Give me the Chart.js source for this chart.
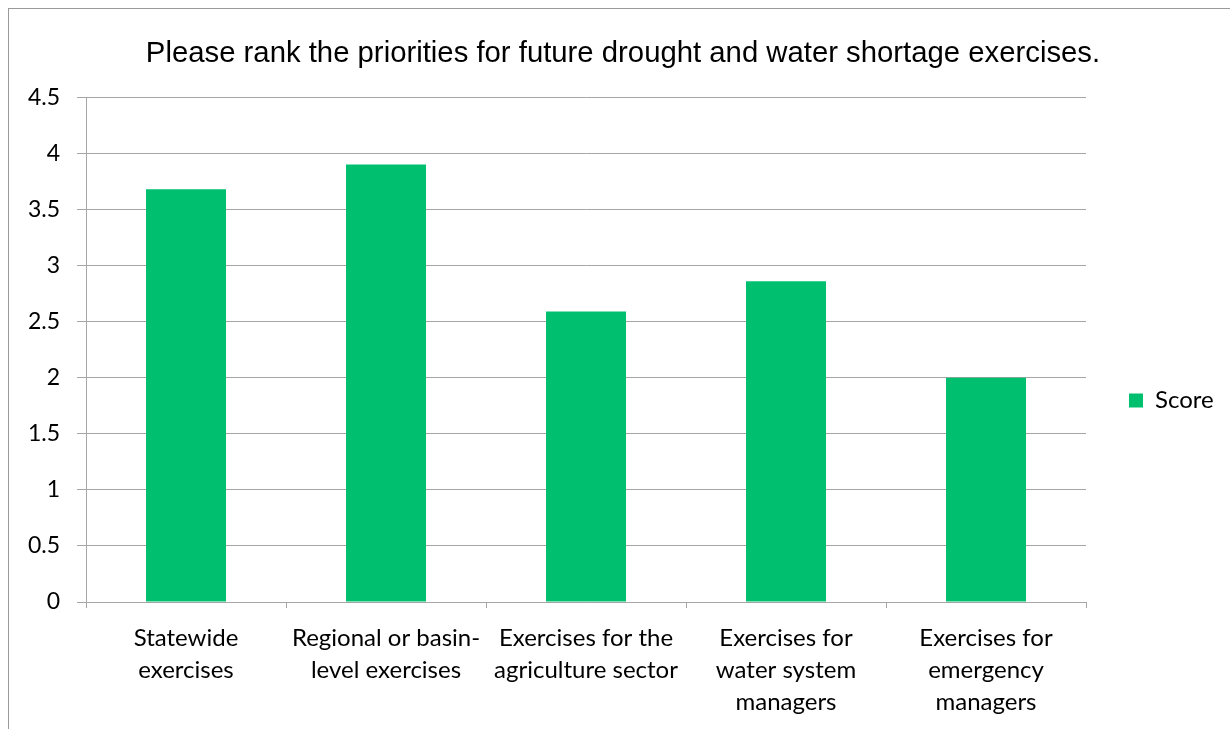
<!DOCTYPE html>
<html>
<head>
<meta charset="utf-8">
<script src="https://cdn.jsdelivr.net/npm/chart.js@4.4.1/dist/chart.umd.min.js"></script>
<style>
  html, body { margin: 0; padding: 0; background: #fff; overflow: hidden; }
  #wrap { position: relative; width: 1230px; height: 729px; }
  #frame { position: absolute; left: 8px; top: 8px; width: 1240px; height: 740px; border: 1px solid #9a9a9a; box-sizing: border-box; pointer-events: none; }
  canvas { position: absolute; left: 0; top: 0; }
</style>
</head>
<body>
<div id="wrap">
  <canvas id="c" width="1230" height="729"></canvas>
  <div id="frame"></div>
</div>
<script>
const titleText = "Please rank the priorities for future drought and water shortage exercises.";
const categories = [
  ["Statewide", "exercises"],
  ["Regional or basin-", "level exercises"],
  ["Exercises for the", "agriculture sector"],
  ["Exercises for", "water system", "managers"],
  ["Exercises for", "emergency", "managers"]
];
const seriesName = "Score";
const scores = [3.68, 3.90, 2.59, 2.86, 2.00];
const yMin = 0, yMax = 4.5, yStep = 0.5;

const labelFont = "Lato, 'Open Sans', sans-serif";
const gridColor = "#a6a6a6";

const layoutFix = {
  id: 'layoutFix',
  afterInit(chart) {
    const lg = chart.legend;
    const orig = lg.fit.bind(lg);
    lg.fit = function() { orig(); this.width = 144; };
  },
  afterLayout(chart) {
    const lg = chart.legend;
    lg.left += 33;
    lg.top += 36;
    lg.bottom += 36;
    const tb = chart.titleBlock;
    if (tb) { tb.left += 16; }
  }
};

new Chart(document.getElementById('c'), {
  type: 'bar',
  data: {
    labels: categories,
    datasets: [{
      label: seriesName,
      data: scores,
      backgroundColor: '#00BF6F',
      borderWidth: 0,
      barPercentage: 0.4,
      categoryPercentage: 1.0
    }]
  },
  options: {
    responsive: false,
    animation: false,
    devicePixelRatio: 1,
    layout: { padding: { left: 0, right: 0, top: 0, bottom: 0 } },
    plugins: {
      title: {
        display: true,
        text: titleText,
        color: '#000',
        font: { family: "'Liberation Sans', Arial, sans-serif", size: 29.3, weight: 'normal', lineHeight: 1.2 },
        padding: { top: 36, bottom: 26 }
      },
      legend: {
        position: 'right',
        labels: {
          boxWidth: 14,
          boxHeight: 14,
          padding: 10,
          color: '#000',
          font: { family: labelFont, size: 24 }
        }
      },
      tooltip: { enabled: false }
    },
    scales: {
      x: {
        grid: { display: true, drawOnChartArea: false, drawTicks: true, tickLength: 6, color: gridColor, offset: true },
        border: { display: true, color: gridColor },
        ticks: {
          color: '#000',
          font: { family: labelFont, size: 24, lineHeight: 1.33 },
          padding: 14,
          maxRotation: 0,
          autoSkip: false
        },
        afterFit(s) { s.height = 127; }
      },
      y: {
        min: yMin,
        max: yMax,
        grid: { color: gridColor, tickLength: 9, lineWidth: 1 },
        border: { display: true, color: gridColor },
        ticks: {
          stepSize: yStep,
          color: '#000',
          font: { family: labelFont, size: 23 },
          padding: 17,
          callback: (v) => String(Math.round(v * 10) / 10)
        },
        afterFit(s) { s.width = 86; }
      }
    }
  },
  plugins: [layoutFix]
});
</script>
</body>
</html>
